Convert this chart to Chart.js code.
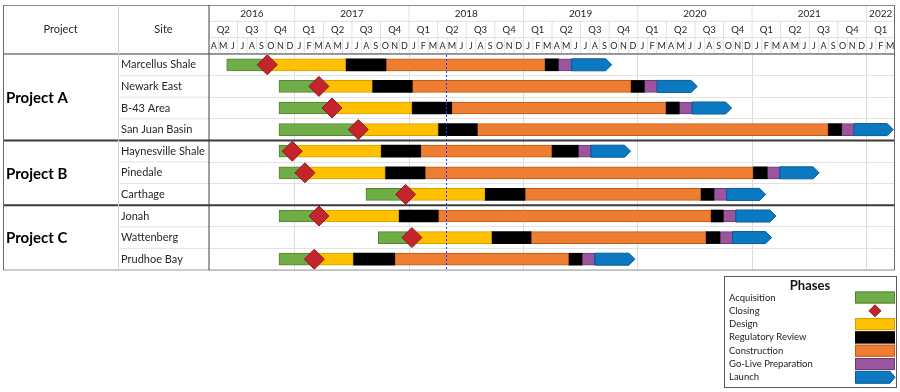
<!DOCTYPE html>
<html><head><meta charset="utf-8">
<script src="https://cdn.jsdelivr.net/npm/chart.js@4/dist/chart.umd.min.js"></script>
<style>html,body{margin:0;padding:0;background:#fff}#wrap{width:900px;height:392px;position:relative}</style>
</head><body><div id="wrap"><canvas id="c" width="900" height="392"></canvas></div>
<script>
// ---------- data (months counted from 1 April 2016) ----------
const sites = ['Marcellus Shale','Newark East','B-43 Area','San Juan Basin','Haynesville Shale','Pinedale','Carthage','Jonah','Wattenberg','Prudhoe Bay'];
const projects = ['Project A','Project B','Project C'];
const projectSiteCounts = [4,3,3];
const years = ['2016','2017','2018','2019','2020','2021','2022'];
const yearStartMonths = [0,9,21,33,45,57,69,72];
const quarterNames = ['Q1','Q2','Q3','Q4'];
const monthInitials = ['J','F','M','A','M','J','J','A','S','O','N','D'];
const firstCalendarMonth = 3;   // April
const timelineMonths = 72;
const todayMonth = 24.87;

const acquisitionStart = [1.86, 7.35, 7.35, 7.35, 7.35, 7.35, 16.47, 7.35, 17.77, 7.35];
const closing          = [6.12, 11.54, 12.91, 15.67, 8.74, 10.07, 20.64, 11.54, 21.30, 11.05];
const designEnd        = [14.34, 17.14, 21.30, 24.06, 18.05, 18.50, 28.96, 19.91, 29.66, 15.14];
const reviewEnd        = [18.57, 21.33, 25.47, 28.15, 22.21, 22.67, 33.16, 24.06, 33.79, 19.49];
const constructionEnd  = [35.26, 44.28, 47.95, 64.98, 35.96, 57.11, 51.60, 52.68, 52.15, 37.74];
const finalReviewEnd   = [36.65, 45.68, 49.35, 66.39, 38.75, 58.58, 52.99, 53.97, 53.62, 39.14];
const goLiveEnd        = [38.06, 47.04, 50.71, 67.71, 40.08, 59.92, 54.32, 55.30, 54.95, 40.50];
const launchEnd        = [42.26, 51.24, 54.85, 71.81, 44.25, 64.04, 58.42, 59.50, 59.05, 44.70];

const phaseNames = ['Acquisition','Closing','Design','Regulatory Review','Construction','Go-Live Preparation','Launch'];
const phaseFill   = {Acquisition:'#70AD47', Closing:'#C4242B', Design:'#FFC000', 'Regulatory Review':'#000000', Construction:'#ED7D31', 'Go-Live Preparation':'#9A559E', Launch:'#0B79C1'};
const phaseBorder = {Acquisition:'#538135', Closing:'#8E1A1F', Design:'#D4A000', 'Regulatory Review':'#000000', Construction:'#C55A11', 'Go-Live Preparation':'#713A76', Launch:'#075C95'};

const FONT = 'Lato, "Open Sans", sans-serif';
const pair = (a, b) => a.map((v, i) => [v, b[i]]);
const bar = (label, data, extra) => Object.assign({
  type: 'bar', label, data, backgroundColor: phaseFill[label], borderColor: phaseBorder[label],
  borderWidth: 1, borderSkipped: false, grouped: false, barThickness: 12, order: 1
}, extra || {});

const datasets = [
  {type:'line', label:'Closing', data: closing, showLine:false, pointStyle:'rectRot', pointRadius:10, pointHoverRadius:10,
   backgroundColor: phaseFill.Closing, borderColor: phaseBorder.Closing, pointBorderWidth:1, order:0},
  bar('Acquisition', pair(acquisitionStart, closing)),
  bar('Design', pair(closing, designEnd)),
  bar('Regulatory Review', pair(designEnd, reviewEnd), {borderWidth:0}),
  bar('Construction', pair(reviewEnd, constructionEnd)),
  bar('Regulatory Review', pair(constructionEnd, finalReviewEnd), {borderWidth:0}),
  bar('Go-Live Preparation', pair(finalReviewEnd, goLiveEnd)),
  bar('Launch', pair(goLiveEnd, launchEnd), {backgroundColor:'rgba(0,0,0,0)', borderColor:'rgba(0,0,0,0)', borderWidth:0, arrow:true})
];

function line(ctx, x1, y1, x2, y2, color, w) {
  ctx.save(); ctx.strokeStyle = color; ctx.lineWidth = w || 1;
  ctx.beginPath(); ctx.moveTo(x1, y1); ctx.lineTo(x2, y2); ctx.stroke(); ctx.restore();
}
function arrowPath(ctx, l, r, t, b, tip) {
  const m = (t + b) / 2;
  ctx.beginPath(); ctx.moveTo(l, t); ctx.lineTo(r - tip, t); ctx.lineTo(r, m); ctx.lineTo(r - tip, b); ctx.lineTo(l, b); ctx.closePath();
}
function text(ctx, s, x, y, font, align, color) {
  ctx.save(); ctx.font = font; ctx.textAlign = align || 'center'; ctx.textBaseline = 'middle';
  ctx.fillStyle = color || '#262626'; ctx.fillText(s, x, y); ctx.restore();
}

const ganttPlugin = {
  id: 'gantt',
  afterDatasetsDraw(chart) {
    const ctx = chart.ctx;
    chart.data.datasets.forEach((ds, di) => {
      if (!ds.arrow) return;
      chart.getDatasetMeta(di).data.forEach(el => {
        const p = el.getProps(['x','y','base','height'], true);
        const t = p.y - p.height / 2, b = p.y + p.height / 2;
        ctx.save();
        arrowPath(ctx, p.base, p.x, t, b, 6);
        ctx.fillStyle = phaseFill.Launch; ctx.fill();
        ctx.strokeStyle = phaseBorder.Launch; ctx.lineWidth = 1; ctx.stroke();
        ctx.restore();
      });
    });
  },
  afterDraw(chart) {
    const ctx = chart.ctx, xs = chart.scales.x, ys = chart.scales.y, a = chart.chartArea;
    const L = 3, C1 = 118, X0 = a.left, R = a.right, T = 5, HB = a.top, B = a.bottom;
    const rh = (HB - T) / 3, r1 = T + rh, r2 = T + 2 * rh;
    const px = m => xs.getPixelForValue(m);
    const boundary = i => i <= 0 ? a.top : i >= sites.length ? a.bottom : (ys.getPixelForValue(i - 1) + ys.getPixelForValue(i)) / 2;

    // site column row lines
    for (let i = 1; i < sites.length; i++) line(ctx, C1, boundary(i), X0, boundary(i), '#e3e3e3', 1);

    // header grid
    line(ctx, X0, r1, R, r1, '#e0e0e0', 1);
    line(ctx, X0, r2, R, r2, '#e0e0e0', 1);
    for (let m = 1; m < timelineMonths; m++) {
      const cal = (firstCalendarMonth + m) % 12;
      const top = cal === 0 ? T : (cal % 3 === 0 ? r1 : r2);
      line(ctx, px(m), top, px(m), HB, '#e0e0e0', 1);
    }
    // header labels
    for (let i = 0; i < years.length; i++) {
      text(ctx, years[i], (px(yearStartMonths[i]) + px(yearStartMonths[i + 1])) / 2, (T + r1) / 2 + 0.5, '10px ' + FONT);
    }
    for (let m = 0; m < timelineMonths; m++) {
      const cal = (firstCalendarMonth + m) % 12;
      text(ctx, monthInitials[cal], (px(m) + px(m + 1)) / 2, (r2 + HB) / 2 + 0.5, '9px ' + FONT);
      if (cal % 3 === 0 || m === 0) {
        const qStart = m, qEnd = Math.min(timelineMonths, m + 3 - (cal % 3));
        text(ctx, quarterNames[Math.floor(cal / 3)], (px(qStart) + px(qEnd)) / 2, (r1 + r2) / 2 + 0.5, '9.5px ' + FONT);
      }
    }
    text(ctx, 'Project', (L + C1) / 2, (T + HB) / 2, '11px ' + FONT);
    text(ctx, 'Site', (C1 + X0) / 2, (T + HB) / 2, '11px ' + FONT);

    // project labels and separators
    let start = 0;
    projects.forEach((p, k) => {
      const end = start + projectSiteCounts[k];
      text(ctx, p, 6, (boundary(start) + boundary(end)) / 2 + 1, 'bold 15px ' + FONT, 'left', '#000');
      if (end < sites.length) line(ctx, L, boundary(end), R, boundary(end), '#3a3a3a', 2);
      start = end;
    });

    // borders
    line(ctx, L, T + 0.5, R, T + 0.5, '#8a8a8a', 1);
    line(ctx, L, HB, R, HB, '#7a7a7a', 1.5);
    line(ctx, L, B, R, B, '#9a9a9a', 1);
    line(ctx, L + 0.5, T, L + 0.5, B, '#6a6a6a', 1);
    line(ctx, C1 + 0.5, T, C1 + 0.5, B, '#d4d4d4', 1);
    line(ctx, X0, T, X0, B, '#404040', 1);
    line(ctx, R - 0.5, T, R - 0.5, B, '#6a6a6a', 1);

    // today line
    ctx.save(); ctx.setLineDash([2, 2]);
    line(ctx, Math.round(px(todayMonth)) + 0.5, HB + 1, Math.round(px(todayMonth)) + 0.5, B, '#2233ff', 1);
    ctx.restore();

    // legend
    const lx = 724, ly = 276, lw = 173, lh = 112;
    ctx.save(); ctx.fillStyle = '#fff'; ctx.fillRect(lx, ly, lw, lh);
    ctx.strokeStyle = '#595959'; ctx.lineWidth = 1; ctx.strokeRect(lx + 0.5, ly + 0.5, lw - 1, lh - 1); ctx.restore();
    text(ctx, 'Phases', 810, 286, 'bold 13px ' + FONT, 'center', '#111');
    phaseNames.forEach((n, i) => {
      const y = 297.5 + i * 13.3;
      text(ctx, n, 729, y, '9.5px ' + FONT, 'left', '#222');
      ctx.save();
      ctx.fillStyle = phaseFill[n]; ctx.strokeStyle = phaseBorder[n]; ctx.lineWidth = 1;
      if (n === 'Closing') {
        ctx.beginPath(); ctx.moveTo(875, y - 6); ctx.lineTo(881, y); ctx.lineTo(875, y + 6); ctx.lineTo(869, y); ctx.closePath();
        ctx.fill(); ctx.stroke();
      } else if (n === 'Launch') {
        arrowPath(ctx, 855.5, 895, y - 6, y + 6, 5); ctx.fill(); ctx.stroke();
      } else {
        ctx.fillRect(855, y - 6, 40, 12); ctx.strokeRect(855.5, y - 5.5, 39, 11);
      }
      ctx.restore();
    });
  }
};

new Chart(document.getElementById('c'), {
  type: 'bar',
  data: { labels: sites, datasets },
  plugins: [ganttPlugin],
  options: {
    indexAxis: 'y', responsive: false, animation: false,
    layout: { autoPadding: false, padding: { left: 121, right: 5, top: 54, bottom: 122 } },
    plugins: { legend: { display: false }, tooltip: { enabled: false } },
    scales: {
      x: {
        type: 'linear', min: 0, max: timelineMonths, position: 'bottom',
        afterBuildTicks: s => { s.ticks = yearStartMonths.slice(1, -1).map(v => ({ value: v })); },
        afterFit: s => { s.height = 0; },
        ticks: { display: false },
        grid: { color: '#dcdcdc', drawTicks: false },
        border: { display: false }
      },
      y: {
        type: 'category', offset: true,
        afterFit: s => { s.width = 88; },
        ticks: { crossAlign: 'far', color: '#262626', font: { family: FONT, size: 11 } },
        grid: { color: '#e3e3e3', drawTicks: false, offset: true },
        border: { display: false }
      }
    }
  }
});
</script></body></html>
